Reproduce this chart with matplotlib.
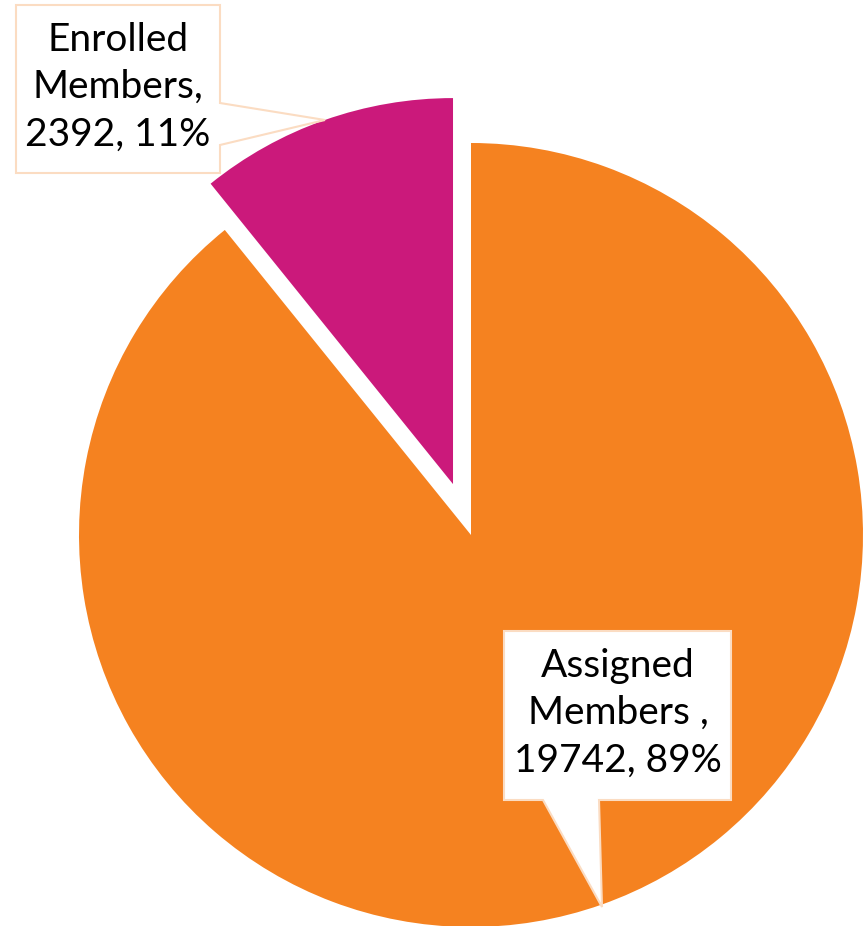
import matplotlib
matplotlib.use("Agg")
import matplotlib.pyplot as plt
from matplotlib.patches import Polygon

# data
categories = ["Assigned\nMembers ", "Enrolled\nMembers"]
values = [19742, 2392]
colors = ["#F58220", "#CB197B"]
explode = [0, 54]  # pie offset is in data units (pixels here)

W, H = 863, 926
fig = plt.figure(figsize=(W / 100, H / 100), dpi=100)
ax = fig.add_axes([0, 0, 1, 1])

wedges, _ = ax.pie(values, colors=colors, explode=explode, startangle=90,
                   counterclock=False, center=(471, H - 535), radius=392,
                   frame=True)
wedges[1].set_radius(386)
ax.set_xlim(0, W)
ax.set_ylim(0, H)
ax.set_aspect("equal")
ax.axis("off")

total = sum(values)
labels = [f"{c},\n{v}, {round(100 * v / total)}%" for c, v in zip(categories, values)]

edge = "#FBDCC2"


def px(pts):
    # pixel coords (top-down) -> axes data coords
    return [(x, H - y) for x, y in pts]


# callout for enrolled
ax.add_patch(Polygon(px([(16, 5), (220, 5), (220, 103), (325, 120), (220, 145),
                         (220, 173), (16, 173)]),
                     closed=True, facecolor="white", edgecolor=edge, lw=1.5, zorder=5))
ax.text(118, H - 87, labels[1], ha="center", va="center", fontsize=28,
        family="Lato", linespacing=1.39, zorder=6)

# callout for assigned
ax.add_patch(Polygon(px([(504, 631), (731, 631), (731, 800), (599, 800), (602, 907),
                         (543, 800), (504, 800)]),
                     closed=True, facecolor="white", edgecolor=edge, lw=1.5, zorder=5))
ax.text(618, H - 713, labels[0], ha="center", va="center", fontsize=28,
        family="Lato", linespacing=1.39, zorder=6)

fig.savefig("out.png", dpi=100)
